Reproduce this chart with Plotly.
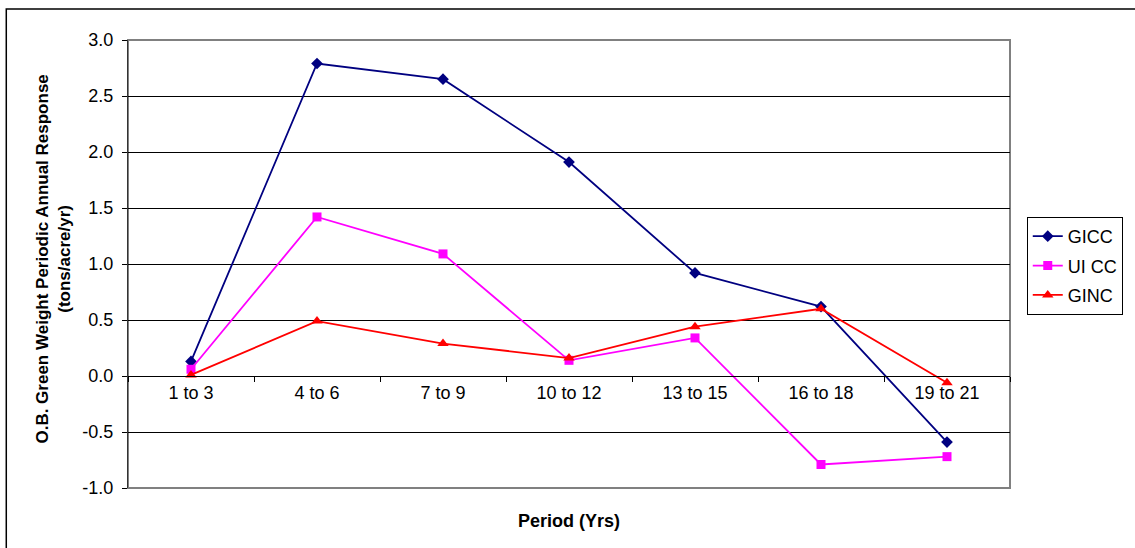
import plotly.graph_objects as go

# Periods and response series (tons/acre/yr)
periods = ["1 to 3", "4 to 6", "7 to 9", "10 to 12", "13 to 15", "16 to 18", "19 to 21"]
gicc = [0.13, 2.79, 2.65, 1.91, 0.92, 0.62, -0.59]
ui_cc = [0.06, 1.42, 1.09, 0.14, 0.34, -0.79, -0.72]
ginc = [0.01, 0.49, 0.29, 0.16, 0.44, 0.60, -0.06]

y_ticks = [3.0, 2.5, 2.0, 1.5, 1.0, 0.5, 0.0, -0.5, -1.0]
y_min, y_max = -1.0, 3.0

FONT = "Liberation Sans, Arial, sans-serif"
FS = 18

fig = go.Figure()
fig.add_trace(go.Scatter(x=periods, y=gicc, name="GICC", mode="lines+markers",
                         legendgroup="a",
                         line=dict(color="#000080", width=1.8),
                         marker=dict(symbol="diamond", size=9, color="#000080")))
fig.add_trace(go.Scatter(x=periods, y=ui_cc, name="UI CC", mode="lines+markers",
                         legendgroup="b",
                         line=dict(color="#FF00FF", width=1.8),
                         marker=dict(symbol="square", size=9, color="#FF00FF")))
fig.add_trace(go.Scatter(x=periods, y=ginc, name="GINC", mode="lines+markers",
                         legendgroup="c",
                         line=dict(color="#FF0000", width=1.8),
                         marker=dict(symbol="triangle-up", size=10, color="#FF0000")))

# x axis crosses the y axis at zero
zero_pos = (0 - y_min) / (y_max - y_min)

fig.update_layout(
    width=1135, height=548,
    margin=dict(l=128, r=123, t=40, b=60),
    paper_bgcolor="white", plot_bgcolor="white",
    font=dict(family=FONT, size=FS, color="black"),
    xaxis=dict(
        type="category", range=[-0.5, len(periods) - 0.5],
        anchor="free", position=zero_pos,
        showline=True, linecolor="black", linewidth=1,
        ticks="outside", tickson="boundaries", ticklen=5, tickcolor="black",
        showgrid=False, zeroline=False,
        tickfont=dict(family=FONT, size=FS),
    ),
    yaxis=dict(
        range=[y_min, y_max], tickvals=y_ticks,
        ticktext=[f"{v:.1f}" for v in y_ticks],
        showline=True, linecolor="#333333", linewidth=1,
        ticks="outside", ticklen=5, tickcolor="black",
        showgrid=True, gridcolor="black", gridwidth=1,
        zeroline=False, ticklabelstandoff=5,
        tickfont=dict(family=FONT, size=FS),
    ),
    legend=dict(
        x=1.019, y=0.605, xanchor="left", yanchor="top",
        bordercolor="black", borderwidth=1, bgcolor="white",
        font=dict(family=FONT, size=FS),
        itemwidth=30, tracegroupgap=3,
    ),
    showlegend=True,
)

# plot-area frame and outer chart frame
fig.add_shape(type="rect", xref="paper", yref="paper", x0=0, y0=0, x1=1, y1=1,
              line=dict(color="#808080", width=2), layer="below")
fig.add_shape(type="rect", xref="paper", yref="paper",
              x0=-0.138, y0=-0.2, x1=1.2, y1=1.069,
              line=dict(color="black", width=1.5), layer="below")

fig.add_annotation(
    text="<b>O.B. Green Weight Periodic Annual Response<br>(tons/acre/yr)</b>",
    xref="paper", yref="paper", x=-0.085, y=0.51, textangle=-90,
    xanchor="center", yanchor="middle",
    showarrow=False, font=dict(family=FONT, size=17), align="center",
)
fig.add_annotation(
    text="<b>Period (Yrs)</b>", xref="paper", yref="paper",
    x=0.5, y=-0.074, xanchor="center", yanchor="middle",
    showarrow=False, font=dict(family=FONT, size=FS),
)

fig.write_html("out.html")
